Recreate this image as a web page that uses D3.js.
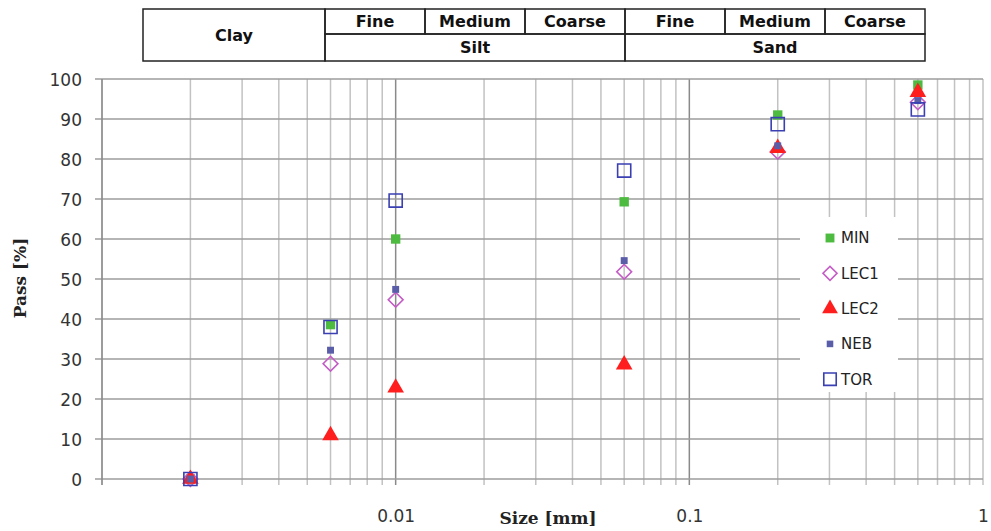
<!DOCTYPE html>
<html>
<head>
<meta charset="utf-8">
<script src="https://cdn.jsdelivr.net/npm/d3@7"></script>
<style>
  body { margin: 0; background: #fff; }
  svg { display: block; }
  .tick text { font-family: "DejaVu Sans", sans-serif; fill: #333; }
</style>
</head>
<body>
<div id="chart"></div>
<script>
// Particle sizes (mm) where the samples were measured
var sizes = [0.002, 0.006, 0.01, 0.06, 0.2, 0.6];

// Pass [%] per sample, same order as sizes
var minValues  = [0, 38.6, 60.0, 69.3, 91.0, 98.5];
var lec1Values = [0, 28.8, 44.8, 51.8, 81.8, 94.2];
var lec2Values = [0, 10.9, 22.8, 28.6, 82.7, 96.7];
var nebValues  = [0, 32.2, 47.4, 54.6, 83.3, 94.6];
var torValues  = [0, 38.0, 69.6, 77.1, 88.7, 92.4];

var seriesNames = ["MIN", "LEC1", "LEC2", "NEB", "TOR"];

// Axis ticks
var yTicks = [0, 10, 20, 30, 40, 50, 60, 70, 80, 90, 100];
var xLabels = [0.01, 0.1, 1];

// Classification header
var clayLabel = "Clay";
var groupLabels = ["Silt", "Sand"];
var subLabels = ["Fine", "Medium", "Coarse"];

var W = 991, H = 531;
var margin = { top: 79, right: 8, bottom: 52, left: 102 };
var plotH = H - margin.top - margin.bottom;

var svg = d3.select('#chart').append('svg')
  .attr('width', W).attr('height', H);

var x = d3.scaleLog().domain([0.001, 1]).range([margin.left, W - margin.right]);
var y = d3.scaleLinear().domain([0, 100]).range([H - margin.bottom, margin.top]);

var seriesData = [
  { name: "MIN",  values: minValues,  shape: d3.symbolSquare,   size: 88,  fill: "#4dbb3f", stroke: "none", rot: 0 },
  { name: "LEC1", values: lec1Values, shape: d3.symbolSquare,   size: 110, fill: "none", stroke: "#c45cc6", rot: 45 },
  { name: "LEC2", values: lec2Values, shape: d3.symbolTriangle, size: 120, fill: "#ff1e1e", stroke: "none", rot: 0 },
  { name: "NEB",  values: nebValues,  shape: d3.symbolSquare,   size: 48,  fill: "#5a5ea8", stroke: "none", rot: 0 },
  { name: "TOR",  values: torValues,  shape: d3.symbolSquare,   size: 172, fill: "none", stroke: "#3a40b2", rot: 0 }
];

// Gridlines: vertical (log minor + major) and horizontal
var gridTicks = x.ticks();
var grid = svg.append('g').attr('class', 'grid');
grid.selectAll('line.v')
  .data(gridTicks).enter()
  .append('line')
    .attr('class', 'v')
    .attr('x1', function(d) { return x(d); })
    .attr('x2', function(d) { return x(d); })
    .attr('y1', y(100))
    .attr('y2', y(0) + 6)
    .style('stroke', function(d) {
      var l = Math.log10(d);
      return (Math.abs(l - Math.round(l)) < 1e-6 && d > 0.001 && d < 1) ? '#8a8a8a' : '#c2c2c2';
    })
    .style('stroke-width', 1.5);

grid.selectAll('line.h')
  .data(yTicks).enter()
  .append('line')
    .attr('class', 'h')
    .attr('x1', margin.left - 7)
    .attr('x2', W - margin.right)
    .attr('y1', function(d) { return y(d); })
    .attr('y2', function(d) { return y(d); })
    .style('stroke', '#9c9c9c')
    .style('stroke-width', 1.5);

// Left axis line
svg.append('line')
  .attr('x1', margin.left).attr('x2', margin.left)
  .attr('y1', y(100)).attr('y2', y(0) + 6)
  .style('stroke', '#8a8a8a').style('stroke-width', 1.5);

// Y axis labels
var yAxis = d3.axisLeft(y).tickValues(yTicks).tickSize(0).tickPadding(20);
var yg = svg.append('g')
  .attr('transform', 'translate(' + margin.left + ',0)')
  .call(yAxis);
yg.select('.domain').remove();
yg.selectAll('text').style('font-size', '17px').attr('dy', '0.36em');

// X axis labels
var xAxis = d3.axisBottom(x).tickValues(xLabels).tickSize(0).tickPadding(31)
  .tickFormat(function(d) { return String(d); });
var xg = svg.append('g')
  .attr('transform', 'translate(0,' + y(0) + ')')
  .call(xAxis);
xg.select('.domain').remove();
xg.selectAll('text').style('font-size', '17px');

// Axis titles
svg.append('text')
  .attr('x', 548).attr('y', 524)
  .attr('text-anchor', 'middle')
  .style('font-family', '"DejaVu Serif", serif')
  .style('font-weight', 'bold')
  .style('font-size', '17px')
  .style('fill', '#222')
  .text('Size [mm]');

svg.append('text')
  .attr('transform', 'translate(26,278) rotate(-90)')
  .attr('text-anchor', 'middle')
  .style('font-family', '"DejaVu Serif", serif')
  .style('font-weight', 'bold')
  .style('font-size', '17px')
  .style('fill', '#222')
  .text('Pass [%]');

// Legend background (covers gridlines)
var legendX = 830, legendY = 238, legendStep = 35.3;
svg.append('rect')
  .attr('x', 800).attr('y', 217)
  .attr('width', 98).attr('height', 175)
  .style('fill', '#fff');

// Data points
function symbolPath(s, scale) {
  return d3.symbol().type(s.shape).size(s.size * (scale || 1))();
}
var series = svg.selectAll('.series')
  .data(seriesData).enter()
  .append('g').attr('class', 'series');
series.selectAll('path')
  .data(function(s) {
    return s.values.map(function(v, i) { return { s: s, size: sizes[i], v: v }; });
  }).enter()
  .append('path')
    .attr('d', function(d) { return symbolPath(d.s); })
    .attr('transform', function(d) {
      return 'translate(' + x(d.size) + ',' + y(d.v) + ') rotate(' + d.s.rot + ')';
    })
    .style('fill', function(d) { return d.s.fill; })
    .style('stroke', function(d) { return d.s.stroke; })
    .style('stroke-width', 1.6);

// Legend entries
var legend = svg.selectAll('.legend')
  .data(seriesData).enter()
  .append('g').attr('class', 'legend')
  .attr('transform', function(d, i) { return 'translate(' + legendX + ',' + (legendY + i * legendStep) + ')'; });
legend.append('path')
  .attr('d', function(d) { return symbolPath(d, 0.9); })
  .attr('transform', function(d) { return 'rotate(' + d.rot + ')'; })
  .style('fill', function(d) { return d.fill; })
  .style('stroke', function(d) { return d.stroke; })
  .style('stroke-width', 1.6);
legend.append('text')
  .attr('x', 11).attr('dy', '0.36em')
  .style('font-family', '"DejaVu Sans", sans-serif')
  .style('font-size', '15px')
  .style('fill', '#222')
  .text(function(d) { return d.name; });

// Classification header table
var tbl = svg.append('g').attr('class', 'header');
var tLeft = 143, tTop = 9, tBottom = 61, tMid = 34, clayW = 182, cellW = 100;
var cells = [{ label: clayLabel, x: tLeft, w: clayW, y0: tTop, y1: tBottom }];
groupLabels.forEach(function(g, gi) {
  var gx = tLeft + clayW + gi * cellW * subLabels.length;
  subLabels.forEach(function(s, si) {
    cells.push({ label: s, x: gx + si * cellW, w: cellW, y0: tTop, y1: tMid });
  });
  cells.push({ label: g, x: gx, w: cellW * subLabels.length, y0: tMid, y1: tBottom });
});
tbl.selectAll('rect')
  .data(cells).enter()
  .append('rect')
    .attr('x', function(d) { return d.x; })
    .attr('y', function(d) { return d.y0; })
    .attr('width', function(d) { return d.w; })
    .attr('height', function(d) { return d.y1 - d.y0; })
    .style('fill', 'none')
    .style('stroke', '#222')
    .style('stroke-width', 1.5);
tbl.selectAll('text')
  .data(cells).enter()
  .append('text')
    .attr('x', function(d) { return d.x + d.w / 2; })
    .attr('y', function(d) { return (d.y0 + d.y1) / 2; })
    .attr('dy', '0.36em')
    .attr('text-anchor', 'middle')
    .style('font-family', '"DejaVu Sans", sans-serif')
    .style('font-weight', 'bold')
    .style('font-size', '16px')
    .style('fill', '#111')
    .text(function(d) { return d.label; });
</script>
</body>
</html>
